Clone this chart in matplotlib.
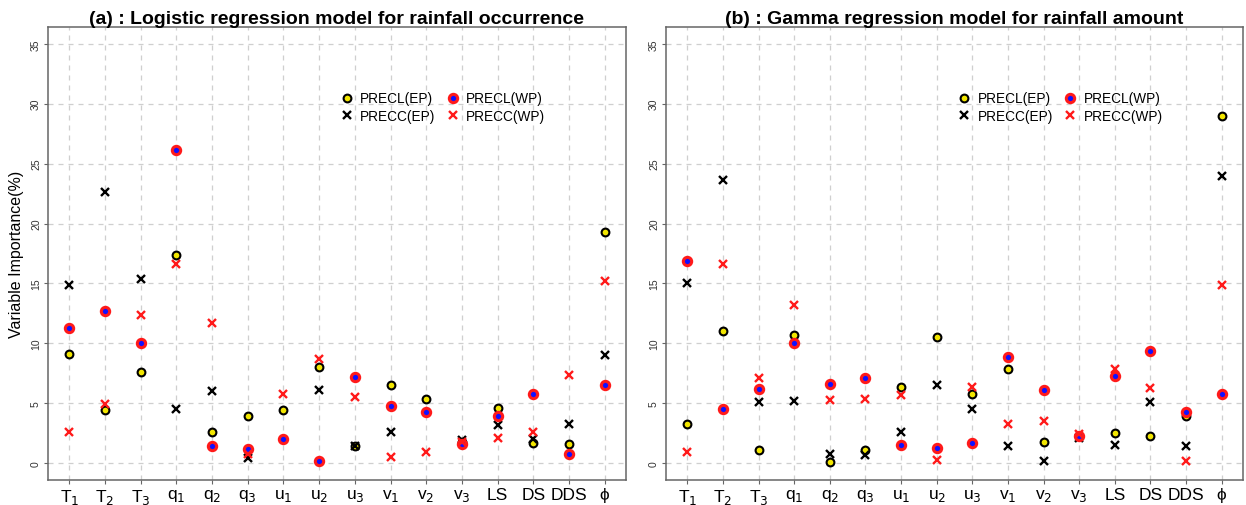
import matplotlib
matplotlib.use("Agg")
import matplotlib.pyplot as plt
import numpy as np
from matplotlib.lines import Line2D

plt.rcParams["font.family"] = ["Liberation Sans", "DejaVu Sans"]

# predictor names (mathtext subscripts)
predictors = [r"T$_1$", r"T$_2$", r"T$_3$", r"q$_1$", r"q$_2$", r"q$_3$",
              r"u$_1$", r"u$_2$", r"u$_3$", r"v$_1$", r"v$_2$", r"v$_3$",
              "LS", "DS", "DDS", "\u03d5"]

# (a) logistic regression, rainfall occurrence
occ_precl_ep = [9.1, 4.4, 7.6, 17.4, 2.6, 3.9, 4.4, 8.0, 1.4, 6.5, 5.4, 1.8, 4.6, 1.7, 1.6, 19.3]
occ_precc_ep = [14.9, 22.6, 15.4, 4.5, 6.0, 0.4, np.nan, 6.1, 1.4, 2.6, np.nan, 1.9, 3.2, 2.0, 3.3, 9.0]
occ_precl_wp = [11.3, 12.7, 10.0, 26.1, 1.4, 1.2, 2.0, 0.2, 7.2, 4.8, 4.3, 1.6, 3.9, 5.8, 0.8, 6.5]
occ_precc_wp = [2.6, 4.9, 12.4, 16.6, 11.7, 0.8, 5.8, 8.7, 5.5, 0.5, 0.9, 1.8, 2.1, 2.6, 7.4, 15.2]

# (b) gamma regression, rainfall amount
amt_precl_ep = [3.3, 11.0, 1.1, 10.7, 0.1, 1.1, 6.4, 10.5, 5.8, 7.9, 1.8, 2.3, 2.5, 2.3, 3.9, 29.0]
amt_precc_ep = [15.0, 23.6, 5.1, 5.2, 0.8, 0.7, 2.6, 6.5, 4.5, 1.4, 0.2, 2.1, 1.5, 5.1, 1.4, 24.0]
amt_precl_wp = [16.9, 4.5, 6.2, 10.0, 6.6, 7.1, 1.5, 1.3, 1.7, 8.9, 6.1, 2.3, 7.3, 9.4, 4.3, 5.8]
amt_precc_wp = [0.9, 16.6, 7.1, 13.2, 5.3, 5.4, 5.7, 0.3, 6.4, 3.3, 3.5, 2.4, 7.9, 6.3, 0.2, 14.9]

styles = {
    "PRECL(EP)": dict(marker="o", ms=5.6, mfc="#f2e600", mec="black", mew=1.5, ls="none"),
    "PRECC(EP)": dict(marker="x", ms=5.6, color="black", mew=1.7, ls="none"),
    "PRECL(WP)": dict(marker="o", ms=6.0, mfc="#1010ff", mec="#ff1a1a", mew=2.2, ls="none"),
    "PRECC(WP)": dict(marker="x", ms=5.6, color="#ff1a1a", mew=1.7, ls="none"),
}


def draw_panel(ax, series, title, show_ylabel):
    x = np.arange(len(predictors))
    for name in ["PRECL(EP)", "PRECC(EP)", "PRECL(WP)", "PRECC(WP)"]:
        ax.plot(x, series[name], **styles[name], zorder=3)

    ax.set_xlim(-0.6, len(predictors) - 0.4)
    ax.set_ylim(-1.4, 36.4)
    ax.set_xticks(x)
    ax.set_xticklabels(predictors, fontsize=12.5)
    ax.set_yticks(np.arange(0, 36, 5))
    ax.set_yticklabels([str(v) for v in range(0, 36, 5)], fontsize=7.5,
                       rotation=90, va="center", color="#333333")
    ax.tick_params(axis="x", length=3, pad=2, color="#666666")
    ax.tick_params(axis="y", length=3, pad=2, color="#666666")
    ax.grid(True, color="#cfcfcf", ls=(0, (4, 4)), lw=0.9, zorder=0)
    for sp in ax.spines.values():
        sp.set_color("#666666")
        sp.set_linewidth(1.1)

    ax.set_title(title, fontsize=14, fontweight="bold", pad=2)
    if show_ylabel:
        ax.set_ylabel("Variable Importance(%)", fontsize=11.5, labelpad=5)

    handles = [Line2D([], [], **styles[n]) for n in styles]
    ax.legend(handles, list(styles.keys()), ncol=2, frameon=False, fontsize=9.8,
              loc="upper left", bbox_to_anchor=(0.505, 0.858), borderaxespad=0,
              borderpad=0, handlelength=1.0, handletextpad=0.5,
              columnspacing=0.75, labelspacing=0.28)


fig = plt.figure(figsize=(12.46, 5.06), dpi=100)
ax_a = fig.add_axes([0.0385, 0.0494, 0.4639, 0.8953])
ax_b = fig.add_axes([0.5345, 0.0494, 0.4631, 0.8953])

draw_panel(ax_a, {"PRECL(EP)": occ_precl_ep, "PRECC(EP)": occ_precc_ep,
                  "PRECL(WP)": occ_precl_wp, "PRECC(WP)": occ_precc_wp},
           "(a) : Logistic regression model for rainfall occurrence", True)
draw_panel(ax_b, {"PRECL(EP)": amt_precl_ep, "PRECC(EP)": amt_precc_ep,
                  "PRECL(WP)": amt_precl_wp, "PRECC(WP)": amt_precc_wp},
           "(b) : Gamma regression model for rainfall amount", False)

fig.savefig("out.png", dpi=100)
